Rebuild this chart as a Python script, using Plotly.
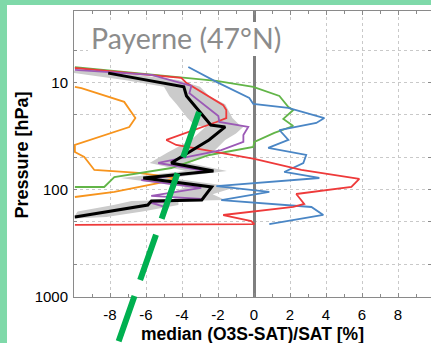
import plotly.graph_objects as go

# ---- data (x = median (O3S-SAT)/SAT [%], p = pressure [hPa]) ----
black_x = [-8.1, -3.9, -3.75, -2.75, -2.4, -1.6, -2.5, -4.6, -2.25, -6.15, -2.35, -2.9, -5.7, -5.9, -9.95]
black_p = [8.2, 11.0, 13.4, 21.5, 25.0, 26.0, 34.4, 56.4, 67.0, 77.8, 94.4, 124.8, 127.4, 138.9, 179.7]

band_p  = [7.8, 8.2, 9.5, 11.0, 13.4, 16.0, 21.5, 25.0, 26.0, 30.0, 34.4, 45.0, 56.4, 67.0, 77.8, 94.4, 110.0, 124.8, 127.4, 138.9, 160.0, 179.7, 186.0]
band_lo = [-10.0, -10.0, -7.2, -5.0, -4.7, -4.3, -3.7, -3.3, -2.7, -3.1, -3.5, -4.8, -5.8, -3.8, -7.4, -3.8, -4.8, -4.3, -6.8, -7.8, -9.8, -10.0, -10.0]
band_hi = [-9.0, -7.4, -4.2, -3.0, -2.5, -1.6, -1.2, -0.8, -0.6, -1.0, -1.6, -2.3, -3.6, -1.5, -4.7, -1.0, -2.3, -1.6, -4.2, -4.2, -6.2, -8.2, -10.0]

red_x = [-9.95, -4.87, -4.04, -3.76, -1.71, -1.54, -1.54, -2.09, -4.87, -4.32, 0.02, 2.63, 5.85, 5.41, 2.35, 2.79, 2.18, -1.71, -0.15, 0.02, -9.95]
red_p = [7.35, 8.9, 9.1, 10.1, 16.3, 18.1, 21.5, 23.4, 34.4, 38.3, 51.7, 65.5, 79.4, 94.4, 109.7, 135.9, 144.9, 172.2, 196.0, 209.0, 213.0]

purple_x = [-9.95, -5.7, -3.48, -3.59, -1.98, -1.93, -0.32, -0.59, -0.59, -1.82, -5.32, -2.65, -6.26, -2.93, -5.71, -2.93, -5.71, -4.76]
purple_p = [7.66, 8.5, 10.8, 12.6, 20.6, 23.4, 26.0, 30.9, 35.9, 42.7, 56.4, 67.0, 81.3, 96.4, 114.0, 122.0, 133.0, 148.0]

green_x = [-9.95, -2.09, -0.04, 1.41, 1.91, 2.18, 1.63, 2.18, 1.13, 0.02, -0.04, -2.48, -4.59, -7.76, -8.32, -9.95]
green_p = [7.2, 9.7, 11.0, 13.4, 17.0, 18.1, 21.9, 25.5, 29.6, 35.9, 40.0, 47.5, 62.8, 76.2, 94.4, 94.4]

blue_x = [-3.65, -2.09, -0.26, -0.04, 1.9, 3.91, 3.46, 1.41, 1.91, 0.79, 2.9, 2.74, 1.68, 3.63, -2.09, 0.85, -1.82, 3.19, 3.85, 0.85]
blue_p = [7.2, 9.9, 14.0, 15.9, 17.3, 21.5, 23.9, 27.8, 34.4, 40.8, 47.5, 56.4, 68.4, 77.8, 92.5, 105.0, 125.0, 145.0, 172.0, 209.0]

orange_x = [-9.95, -9.59, -7.21, -6.59, -6.93, -9.95, -9.95, -9.43, -8.87, -6.43, -4.32, -5.32, -7.76, -9.95]
orange_p = [11.0, 11.3, 15.2, 21.5, 26.1, 38.3, 44.5, 49.6, 65.5, 69.8, 77.8, 86.7, 105.0, 117.0]

x_tickvals = [-8, -6, -4, -2, 0, 2, 4, 6, 8]
y_tickvals = [10, 100, 1000]
y_minorvals = [5, 20, 50, 200, 500]

title_text = "Payerne (47°N)"
x_title = "median (O3S-SAT)/SAT [%]"
y_title = "Pressure [hPa]"

# ---- layout geometry (pixels) ----
W, H = 431, 343
L, R, T, B = 74, 0, 11, 46
PW, PH = W - L - R, H - T - B


def px(xpix):
    return (xpix - L) / PW


def py(ypix):
    return (H - B - ypix) / PH


fig = go.Figure()

fig.add_trace(go.Scatter(
    x=band_lo + band_hi[::-1], y=band_p + band_p[::-1],
    fill="toself", fillcolor="#cbcbcb", line=dict(width=0),
    mode="lines", hoverinfo="skip", showlegend=False))

series = [
    (orange_x, orange_p, "#f7941d", 1.8),
    (green_x, green_p, "#62b548", 1.8),
    (blue_x, blue_p, "#4a86c5", 1.8),
    (red_x, red_p, "#ee3a3a", 1.8),
    (purple_x, purple_p, "#9b59b6", 1.8),
    (black_x, black_p, "#000000", 3.0),
]
for xs, ps, col, w in series:
    fig.add_trace(go.Scatter(x=xs, y=ps, mode="lines",
                             line=dict(color=col, width=w),
                             showlegend=False))

axis_font = dict(family="Liberation Sans, Arial, sans-serif", size=15, color="#000000")

fig.update_xaxes(
    range=[-10, -10 + PW / 18.0],
    tickvals=x_tickvals, ticktext=[str(v) for v in x_tickvals],
    showgrid=True, gridcolor="#c9c9c9", griddash="dot", gridwidth=1,
    zeroline=True, zerolinecolor="#7f7f7f", zerolinewidth=2.5,
    showline=True, linecolor="#8a8a8a", linewidth=1, mirror="ticks",
    ticks="inside", ticklen=4, tickcolor="#8a8a8a",
    minor=dict(dtick=1, ticks="inside", ticklen=3, tickcolor="#8a8a8a", showgrid=False),
    tickfont=axis_font, ticklabelstandoff=4,
)
fig.update_yaxes(
    type="log", range=[3, 0.335],
    tickvals=y_tickvals, ticktext=[str(v) for v in y_tickvals],
    showgrid=True, gridcolor="#c9c9c9", griddash="dot", gridwidth=1,
    showline=True, linecolor="#8a8a8a", linewidth=1, mirror="ticks",
    ticks="inside", ticklen=3, tickcolor="#8a8a8a",
    minor=dict(tickvals=y_minorvals, ticks="inside", ticklen=3, tickcolor="#8a8a8a",
               showgrid=True, gridcolor="#c9c9c9", griddash="dot", gridwidth=1),
    tickfont=axis_font, ticklabelstandoff=2,
)

green_border = "#7fd9a9"
shapes = [
    # white box behind the station title
    dict(type="rect", xref="paper", yref="paper",
         x0=px(88), x1=px(325), y0=py(56), y1=py(22),
         fillcolor="white", line=dict(width=0), layer="above"),
    # mint border, left and top
    dict(type="rect", xref="paper", yref="paper",
         x0=px(0), x1=px(7), y0=py(H), y1=py(0),
         fillcolor=green_border, line=dict(width=0), layer="above"),
    dict(type="rect", xref="paper", yref="paper",
         x0=px(0), x1=px(W), y0=py(5), y1=py(0),
         fillcolor=green_border, line=dict(width=0), layer="above"),
    # thick dashed green slope marker
    dict(type="line", xref="paper", yref="paper",
         x0=px(199), y0=py(112), x1=px(117), y1=py(346),
         line=dict(color="#00b050", width=6, dash="48px,17px"), layer="above"),
]

annotations = [
    dict(text=title_text, xref="paper", yref="paper", x=px(186), y=py(38),
         xanchor="center", yanchor="middle", showarrow=False,
         font=dict(family="Lato, Open Sans, sans-serif", size=28.5, color="#8c8c8c")),
    dict(text="<b>" + x_title + "</b>", xref="paper", yref="paper",
         x=px(252), y=py(334), xanchor="center", yanchor="middle", showarrow=False,
         font=dict(family="Liberation Sans, Arial, sans-serif", size=17.5, color="#000000")),
    dict(text="<b>" + y_title + "</b>", xref="paper", yref="paper",
         x=px(21.5), y=py(155), xanchor="center", yanchor="middle", showarrow=False,
         textangle=-90,
         font=dict(family="Liberation Sans, Arial, sans-serif", size=18, color="#000000")),
]

fig.update_layout(
    width=W, height=H,
    margin=dict(l=L, r=R, t=T, b=B, pad=0),
    paper_bgcolor="white", plot_bgcolor="white",
    shapes=shapes, annotations=annotations,
    showlegend=False,
)

fig.write_html("out.html")
